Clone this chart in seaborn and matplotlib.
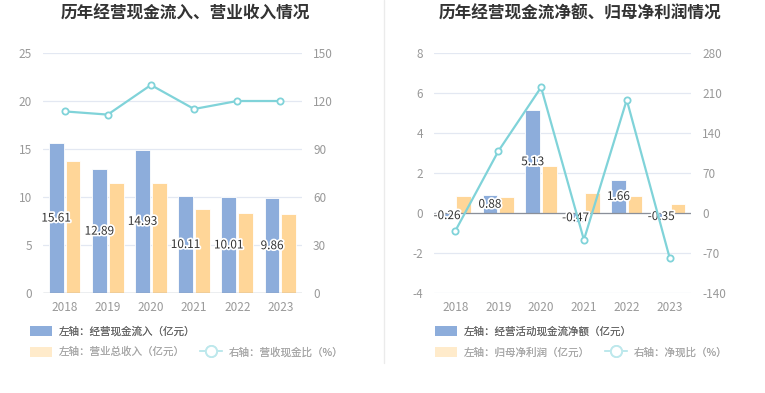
import numpy as np
import pandas as pd
import matplotlib
matplotlib.use("Agg")
import matplotlib.pyplot as plt
import matplotlib.patheffects as pe
from matplotlib.patches import Patch
from matplotlib.lines import Line2D
import seaborn as sns

# dados
anos = ["2018", "2019", "2020", "2021", "2022", "2023"]
fluxo_entrada = [15.61, 12.89, 14.93, 10.11, 10.01, 9.86]
receita_total = [13.70, 11.45, 11.45, 8.78, 8.33, 8.20]
razao_receita = [113.5, 111.5, 130.0, 115.0, 120.0, 120.0]

fluxo_liquido = [-0.26, 0.88, 5.13, -0.47, 1.66, -0.35]
lucro_liquido = [0.87, 0.79, 2.33, 1.01, 0.83, 0.45]
razao_lucro = [-31.0, 108.0, 220.0, -47.0, 198.0, -78.0]

AZUL = "#8DADDB"
LARANJA = "#FFD698"
TEAL = "#80D3D9"
CINZA_TXT = "#999999"
GRADE = "#E3E8F2"

sns.set_theme(style="white")
plt.rcParams["font.family"] = ["Noto Sans CJK SC", "DejaVu Sans"]
plt.rcParams["axes.unicode_minus"] = False

W, H = 765, 393
fig = plt.figure(figsize=(W / 100, H / 100), dpi=100)


def px(x, y):
    return x / W, 1 - y / H


def painel(x0, x1, titulo, titulo_x, serie_a, serie_b, razao, nomes, lim_esq, tk_esq, lim_dir, tk_dir):
    ax = fig.add_axes([x0 / W, 1 - 293 / H, (x1 - x0) / W, 240 / H])
    df = pd.DataFrame({
        "ano": anos * 2,
        "valor": serie_a + serie_b,
        "serie": [nomes[0]] * len(anos) + [nomes[1]] * len(anos),
    })
    sns.barplot(data=df, x="ano", y="valor", hue="serie", palette=[AZUL, LARANJA],
                saturation=1, width=0.78, gap=0.12, edgecolor="white", linewidth=0.6,
                legend=False, ax=ax, zorder=2)
    ax.set_ylim(*lim_esq)
    ax.set_yticks(tk_esq)
    ax.set_xlim(-0.5, len(anos) - 0.5)
    ax.set_xlabel("")
    ax.set_ylabel("")
    ax.grid(axis="y", color=GRADE, linewidth=0.9, zorder=0)
    ax.grid(axis="x", visible=False)
    for s in ax.spines.values():
        s.set_visible(False)
    ax.axhline(0, color="#8A8F99", linewidth=0.9, zorder=3)
    ax.tick_params(axis="both", length=0, labelsize=8.5, labelcolor=CINZA_TXT, pad=8)
    ax.tick_params(axis="x", pad=6)

    ax.bar_label(ax.containers[0], labels=[f"{v:.2f}" for v in serie_a], label_type="center",
                 fontsize=8.5, color="#333333", zorder=6,
                 path_effects=[pe.withStroke(linewidth=2.5, foreground="white")])

    ax2 = ax.twinx()
    sns.lineplot(x=np.arange(len(anos)), y=razao, ax=ax2, color=TEAL, linewidth=1.6,
                 marker="o", markersize=4.5, markerfacecolor="white",
                 markeredgecolor=TEAL, markeredgewidth=1.3, zorder=5)
    ax2.set_ylim(*lim_dir)
    ax2.set_yticks(tk_dir)
    ax2.set_ylabel("")
    ax2.grid(False)
    for s in ax2.spines.values():
        s.set_visible(False)
    ax2.tick_params(axis="y", length=0, labelsize=8.5, labelcolor=CINZA_TXT, pad=8)

    fig.text(*px(titulo_x, 14), titulo, ha="center", va="center", fontsize=12,
             fontweight="bold", color="#333333")
    return ax


def legenda(x, y_linha1, y_linha2, nomes, nome_razao):
    kw = dict(frameon=False, fontsize=7.6, handlelength=2.1, handleheight=1.1,
              handletextpad=0.6, borderpad=0, borderaxespad=0, loc="center left")
    l1 = fig.legend(handles=[Patch(facecolor=AZUL, edgecolor="none")], labels=[nomes[0]],
                    bbox_to_anchor=px(x, y_linha1), **kw)
    for t in l1.get_texts():
        t.set_color("#666666")
    fig.add_artist(l1)
    marca = Line2D([], [], color="#BDE8EC", linewidth=1.3, marker="o", markersize=8,
                   markerfacecolor="white", markeredgecolor="#BDE8EC", markeredgewidth=1.3)
    l2 = fig.legend(handles=[Patch(facecolor="#FFEBCB", edgecolor="none"), marca],
                    labels=[nomes[1], nome_razao], ncol=2, columnspacing=1.45,
                    bbox_to_anchor=px(x, y_linha2), **kw)
    for t in l2.get_texts():
        t.set_color("#A8A8A8")
    fig.add_artist(l2)


nomes_esq = ["左轴：经营现金流入（亿元）", "左轴：营业总收入（亿元）"]
nomes_dir = ["左轴：经营活动现金流净额（亿元）", "左轴：归母净利润（亿元）"]

painel(43, 302, "历年经营现金流入、营业收入情况", 185, fluxo_entrada, receita_total, razao_receita,
       nomes_esq, (0, 25), [0, 5, 10, 15, 20, 25], (0, 150), [0, 30, 60, 90, 120, 150])
painel(434, 691, "历年经营现金流净额、归母净利润情况", 580, fluxo_liquido, lucro_liquido, razao_lucro,
       nomes_dir, (-4, 8), [-4, -2, 0, 2, 4, 6, 8], (-140, 280), [-140, -70, 0, 70, 140, 210, 280])

legenda(30, 331, 352, nomes_esq, "右轴：营收现金比（%）")
legenda(435, 331, 352, nomes_dir, "右轴：净现比（%）")

# linha divisória entre os painéis
fig.add_artist(Line2D([384 / W, 384 / W], [1 - 363 / H, 1.0], color="#EBEBEB", linewidth=1))

fig.savefig("out.png", dpi=100)
